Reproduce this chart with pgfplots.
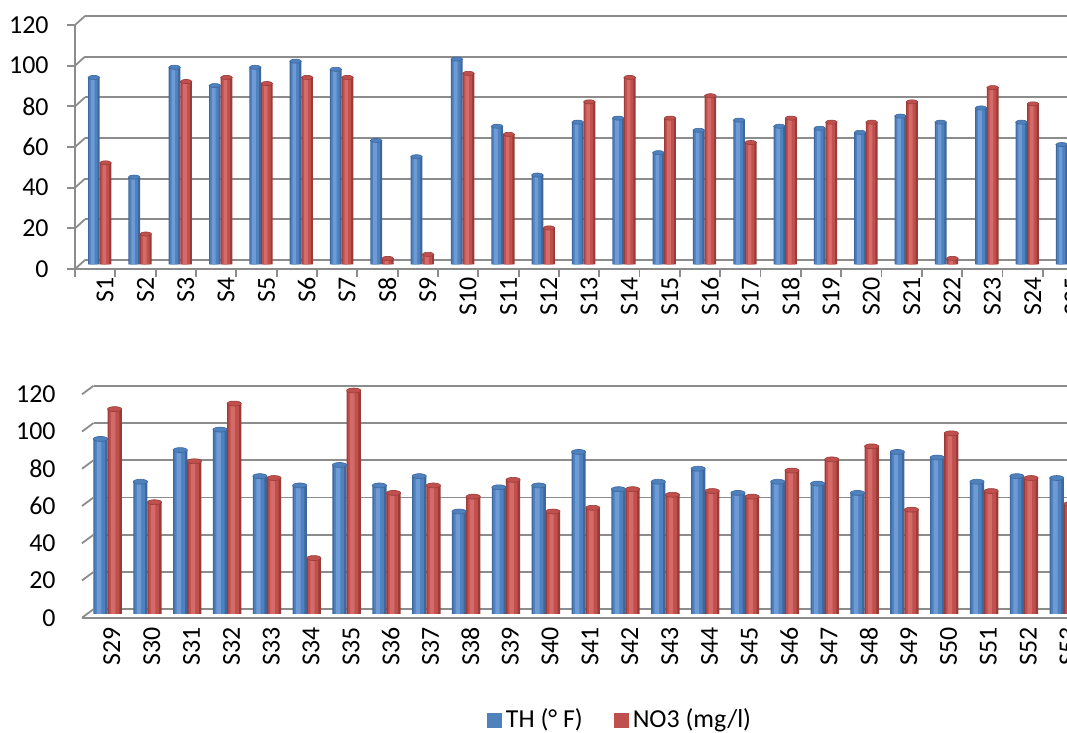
\documentclass[border=0pt]{standalone}
\usepackage{fontspec}
\setmainfont{Carlito}
\usepackage{pgfplots}
\pgfplotsset{compat=1.18}

\definecolor{thmid}{HTML}{4F81BD}
\definecolor{thlight}{HTML}{6E9BD6}
\definecolor{thdark}{HTML}{3C679F}
\definecolor{nomid}{HTML}{C0504D}
\definecolor{nolight}{HTML}{D46B68}
\definecolor{nodark}{HTML}{9A3B38}
\definecolor{gridgray}{HTML}{8C8C8C}

\pgfplotsset{
  panel/.style={
    scale only axis, clip=false,
    xmin=0.5, xmax=25.6, ymin=0, ymax=120,
    ytick={0,20,...,120},
    xtick={0.5,1.5,...,25.5},
    x tick label as interval,
    ymajorgrids,
    axis x line*=bottom, axis y line*=left,
    axis line style={gridgray, line width=0.9bp},
    tick style={gridgray, line width=0.9bp},
    tick align=outside,
    major tick length=4bp,
    tick label style={font=\fontsize{13}{15}\selectfont},
    /pgf/number format/assume math mode=true,
    yticklabel style={anchor=east, inner sep=0pt},
    xticklabel style={rotate=90, anchor=east, inner sep=0pt},
  },
  cap/.style={only marks, forget plot, mark=*, mark options={draw=#1, line width=0.3bp, yscale=0.35}},
}

\begin{document}
\begin{tikzpicture}
\useasboundingbox (0,0) rectangle (533.5bp,366.5bp);

\pgfplotstableread{
x th no
1 92 50
2 43 15
3 97 90
4 88 92
5 97 89
6 100 92
7 96 92
8 61 3
9 53 5
10 101 94
11 68 64
12 44 18
13 70 80
14 72 92
15 55 72
16 66 83
17 71 60
18 68 72
19 67 70
20 65 70
21 73 80
22 70 3
23 77 87
24 70 79
25 59 60
}\uppertable

\pgfplotstableread{
x th no
1 94 110
2 71 60
3 88 82
4 99 113
5 74 73
6 69 30
7 80 120
8 69 65
9 74 69
10 55 63
11 68 72
12 69 55
13 87 57
14 67 67
15 71 64
16 78 66
17 65 63
18 71 77
19 70 83
20 65 90
21 87 56
22 84 97
23 71 66
24 74 73
25 73 59
}\lowertable

% upper panel: S1 - S25
\begin{axis}[panel,
  at={(37.5bp,232bp)}, anchor=south west,
  width=506.1bp, height=122bp,
  major grid style={gridgray, line width=0.9bp, xshift=5bp, yshift=4.5bp},
  xticklabels={S1,S2,S3,S4,S5,S6,S7,S8,S9,S10,S11,S12,S13,S14,S15,S16,S17,S18,S19,S20,S21,S22,S23,S24,S25},
  xticklabel style={yshift=-5bp},
  yticklabel style={xshift=-9bp},
]
% TH bars, three layers for the cylinder shading
\addplot[ybar, draw=none, fill=thdark, bar width=0.29, bar shift=-0.032, yshift=2.25bp] table[x=x, y=th] {\uppertable};
\addplot[ybar, draw=none, fill=thmid, bar width=0.21, bar shift=-0.045, yshift=2.25bp] table[x=x, y=th] {\uppertable};
\addplot[ybar, draw=none, fill=thlight, bar width=0.09, bar shift=-0.06, yshift=2.25bp] table[x=x, y=th] {\uppertable};
\addplot[cap=thdark, mark size=2.9bp, fill=thmid, xshift=-0.65bp, yshift=2.25bp] table[x=x, y=th] {\uppertable};
% NO3 bars
\addplot[ybar, draw=none, fill=nodark, bar width=0.29, bar shift=0.256, yshift=2.25bp] table[x=x, y=no] {\uppertable};
\addplot[ybar, draw=none, fill=nomid, bar width=0.21, bar shift=0.243, yshift=2.25bp] table[x=x, y=no] {\uppertable};
\addplot[ybar, draw=none, fill=nolight, bar width=0.09, bar shift=0.228, yshift=2.25bp] table[x=x, y=no] {\uppertable};
\addplot[cap=nodark, mark size=2.9bp, fill=nomid, xshift=5.16bp, yshift=2.25bp] table[x=x, y=no] {\uppertable};
\pgfplotsinvokeforeach{0,20,...,120}{
  \draw[gridgray, line width=0.9bp] (axis cs:0.5,#1) -- ++(5bp,4.5bp);
}
\end{axis}

% lower panel: S29 - S53
\begin{axis}[panel,
  at={(41bp,57.65bp)}, anchor=south west,
  width=500bp, height=111.7bp,
  y axis line style={draw=none},
  ytick style={draw=none},
  xtick style={draw=none},
  major grid style={gridgray, line width=0.9bp, xshift=5.75bp, yshift=4.25bp},
  xticklabels={S29,S30,S31,S32,S33,S34,S35,S36,S37,S38,S39,S40,S41,S42,S43,S44,S45,S46,S47,S48,S49,S50,S51,S52,S53},
  xticklabel style={yshift=-5bp, xshift=-0.6bp},
  yticklabel style={xshift=-9bp},
  legend columns=2,
  legend style={at={(axis description cs:0.539,-0.458)}, anchor=center, draw=none,
    font=\fontsize{13}{15}\selectfont,
    /tikz/every even column/.append style={column sep=13.5bp}},
  legend image code/.code={\fill[#1, draw=none] (0bp,-3.75bp) rectangle (7.5bp,3.75bp);},
]
\addplot[ybar, forget plot, draw=none, fill=thdark, bar width=0.357, bar shift=-0.035, yshift=1.9bp] table[x=x, y=th] {\lowertable};
\addplot[ybar, forget plot, draw=none, fill=thmid, bar width=0.26, bar shift=-0.05, yshift=1.9bp] table[x=x, y=th] {\lowertable};
\addplot[ybar, forget plot, draw=none, fill=thlight, bar width=0.11, bar shift=-0.07, yshift=1.9bp] table[x=x, y=th] {\lowertable};
\addplot[cap=thdark, mark size=3.55bp, fill=thmid, xshift=-0.7bp, yshift=1.9bp] table[x=x, y=th] {\lowertable};
\addplot[ybar, forget plot, draw=none, fill=nodark, bar width=0.357, bar shift=0.32, yshift=1.9bp] table[x=x, y=no] {\lowertable};
\addplot[ybar, forget plot, draw=none, fill=nomid, bar width=0.26, bar shift=0.305, yshift=1.9bp] table[x=x, y=no] {\lowertable};
\addplot[ybar, forget plot, draw=none, fill=nolight, bar width=0.11, bar shift=0.285, yshift=1.9bp] table[x=x, y=no] {\lowertable};
\addplot[cap=nodark, mark size=3.55bp, fill=nomid, xshift=6.37bp, yshift=1.9bp] table[x=x, y=no] {\lowertable};
\pgfplotsinvokeforeach{0,20,...,120}{
  \draw[gridgray, line width=0.9bp] (axis cs:0.5,#1) -- ++(5.75bp,4.25bp);
}
\addlegendimage{fill=thmid}
\addlegendentry{TH (° F)}
\addlegendimage{fill=nomid}
\addlegendentry{NO3 (mg/l)}
\end{axis}
\end{tikzpicture}
\end{document}
